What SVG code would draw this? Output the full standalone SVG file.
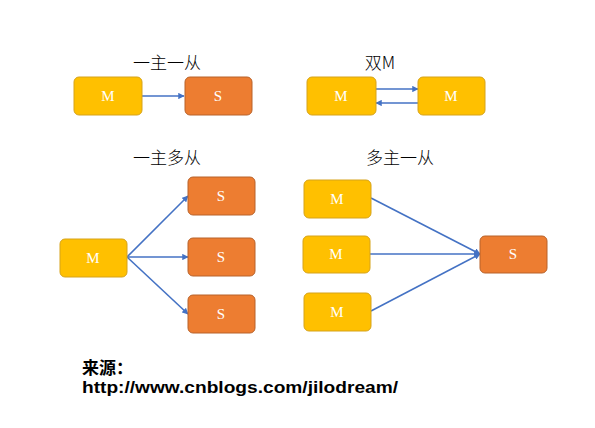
<svg xmlns="http://www.w3.org/2000/svg" width="595" height="428" viewBox="0 0 595 428">
<style>
.m{fill:#FFC000;stroke:#D6A31A;stroke-width:1}
.s{fill:#ED7D31;stroke:#B8622A;stroke-width:1}
.lbl{font-family:"Liberation Serif","DejaVu Serif",serif;font-size:15px;fill:#fff;text-anchor:middle}
.ttl{font-family:"Noto Sans CJK SC","Noto Sans",sans-serif;font-size:17px;font-weight:300;fill:#000;text-anchor:middle}
.con{stroke:#4472C4;stroke-width:1.6;fill:none;marker-end:url(#ah)}
.foot{font-family:"Liberation Sans","Noto Sans CJK SC",sans-serif;font-weight:bold;font-size:17px;fill:#000}
</style>
<defs>
<marker id="ah" viewBox="0 0 10 10" refX="9" refY="5" markerWidth="4" markerHeight="4" orient="auto" markerUnits="strokeWidth">
<path d="M0,0 L10,5 L0,10 z" fill="#4472C4"/>
</marker>
</defs>
<rect width="595" height="428" fill="#fff"/>
<g id="titles">
<text class="ttl" x="167" y="69">一主一从</text>
<text class="ttl" x="380" y="69">双M</text>
<text class="ttl" x="167" y="164">一主多从</text>
<text class="ttl" x="400" y="164">多主一从</text>
</g>
<g id="connectors">
<line class="con" x1="142" y1="96" x2="184" y2="96"/>
<line class="con" x1="376" y1="89" x2="418" y2="89"/>
<line class="con" x1="418" y1="103" x2="376" y2="103"/>
<line class="con" x1="127" y1="257" x2="188" y2="196"/>
<line class="con" x1="127" y1="257" x2="188" y2="257"/>
<line class="con" x1="127" y1="257" x2="188" y2="314"/>
<line class="con" x1="371" y1="198" x2="480" y2="254"/>
<line class="con" x1="370" y1="254" x2="480" y2="254"/>
<line class="con" x1="371" y1="311" x2="480" y2="254"/>
</g>
<g id="n1m"><rect class="m" x="74" y="77" width="68" height="38" rx="5"/><text class="lbl" x="108" y="101">M</text></g>
<g id="n1s"><rect class="s" x="185" y="77" width="67" height="38" rx="5"/><text class="lbl" x="218" y="101">S</text></g>
<g id="n2m1"><rect class="m" x="307" y="77" width="69" height="38" rx="5"/><text class="lbl" x="341" y="101">M</text></g>
<g id="n2m2"><rect class="m" x="418" y="77" width="67" height="38" rx="5"/><text class="lbl" x="451" y="101">M</text></g>
<g id="n3m"><rect class="m" x="60" y="239" width="67" height="38" rx="5"/><text class="lbl" x="93" y="263">M</text></g>
<g id="n3s1"><rect class="s" x="188" y="177" width="67" height="38" rx="5"/><text class="lbl" x="221" y="201">S</text></g>
<g id="n3s2"><rect class="s" x="188" y="238" width="67" height="38" rx="5"/><text class="lbl" x="221" y="262">S</text></g>
<g id="n3s3"><rect class="s" x="188" y="295" width="67" height="38" rx="5"/><text class="lbl" x="221" y="319">S</text></g>
<g id="n4m1"><rect class="m" x="304" y="180" width="67" height="38" rx="5"/><text class="lbl" x="337" y="204">M</text></g>
<g id="n4m2"><rect class="m" x="303" y="236" width="67" height="37" rx="5"/><text class="lbl" x="336" y="259">M</text></g>
<g id="n4m3"><rect class="m" x="304" y="293" width="67" height="38" rx="5"/><text class="lbl" x="337" y="317">M</text></g>
<g id="n4s"><rect class="s" x="480" y="236" width="67" height="37" rx="5"/><text class="lbl" x="513" y="259">S</text></g>
<g id="footer">
<text class="foot" x="82" y="374">来源：</text>
<text class="foot" x="82" y="393" textLength="316" lengthAdjust="spacingAndGlyphs">http://www.cnblogs.com/jilodream/</text>
</g>
</svg>
